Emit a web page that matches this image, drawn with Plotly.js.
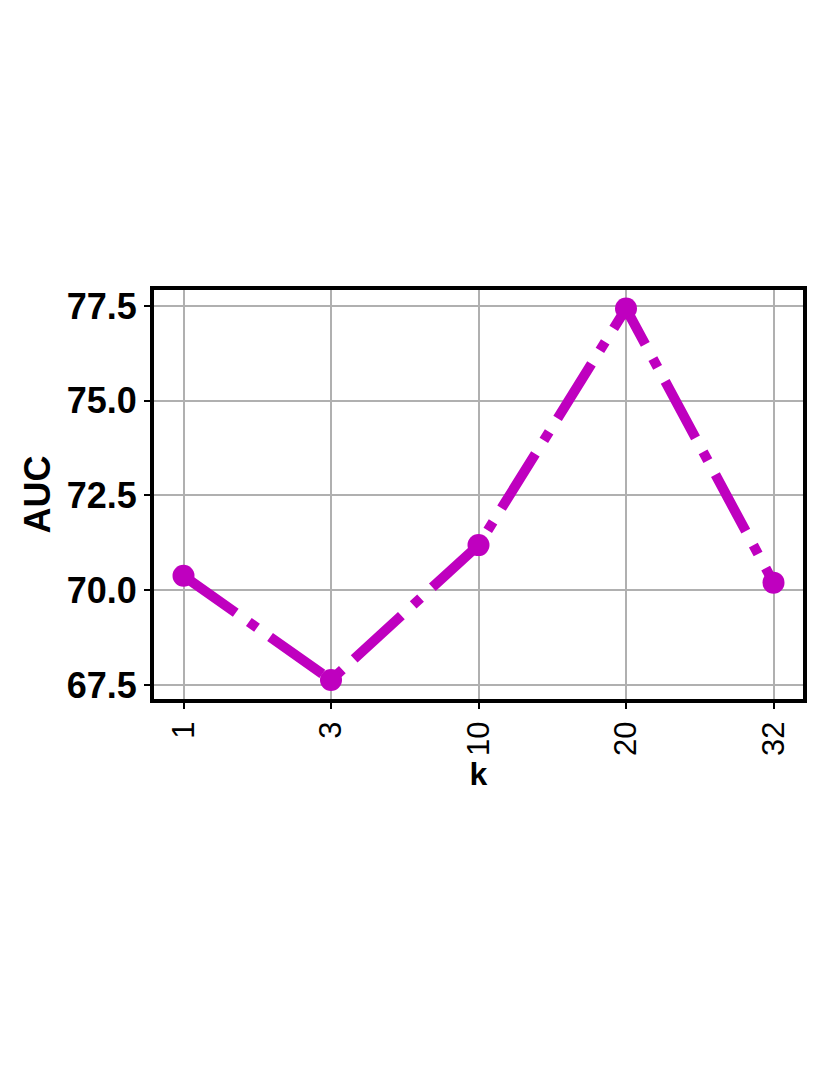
<!DOCTYPE html>
<html>
<head>
<meta charset="utf-8">
<script src="https://cdn.plot.ly/plotly-3.0.1.min.js"></script>
<style>
  html, body { margin: 0; padding: 0; background: white; }
  #chart { width: 830px; height: 1075px; }
</style>
</head>
<body>
<div id="chart"></div>
<script>
chart = document.getElementById("chart")

// k values and AUC
let kLabels = ['1', '3', '10', '20', '32'];
let aucValues = [70.38, 67.63, 71.19, 77.43, 70.20];
let yTicks = [67.5, 70.0, 72.5, 75.0, 77.5];
let yTickText = ['67.5', '70.0', '72.5', '75.0', '77.5'];

let trace = {
    x: kLabels,
    y: aucValues,
    type: 'scatter',
    mode: 'lines+markers',
    line: { color: '#bf00bf', width: 10, dash: '64px,16px,10px,16px' },
    marker: { color: '#bf00bf', size: 22 },
    cliponaxis: false
};

let layout = {
    width: 830,
    height: 1075,
    font: { family: 'Liberation Sans', color: 'black' },
    paper_bgcolor: 'white',
    plot_bgcolor: 'white',
    showlegend: false,
    margin: { l: 154, r: 27, t: 290, b: 376 },
    xaxis: {
        type: 'category',
        range: [-0.2, 4.2],
        title: { text: '<b>k</b>', font: { size: 32, family: 'Liberation Sans' }, standoff: 8 },
        tickfont: { size: 31, family: 'Liberation Sans' },
        tickangle: -90,
        ticks: 'outside',
        ticklen: 6,
        tickwidth: 2,
        tickcolor: 'black',
        showline: true,
        linewidth: 4,
        linecolor: 'black',
        mirror: true,
        showgrid: true,
        gridcolor: '#b0b0b0',
        gridwidth: 1.5,
        zeroline: false,
        automargin: false
    },
    yaxis: {
        range: [67.13, 77.92],
        tickvals: yTicks,
        ticktext: yTickText,
        title: { text: '<b>AUC</b>', font: { size: 36, family: 'Liberation Sans' }, standoff: 6 },
        tickfont: { size: 36, family: 'Liberation Sans', weight: 'bold' },
        ticks: 'outside',
        ticklen: 6,
        tickwidth: 2,
        tickcolor: 'black',
        showline: true,
        linewidth: 4,
        linecolor: 'black',
        mirror: true,
        showgrid: true,
        gridcolor: '#b0b0b0',
        gridwidth: 1.5,
        zeroline: false,
        automargin: false
    }
};

let config = { displayModeBar: false, responsive: false }
Plotly.newPlot(chart, [trace], layout, config);
</script>
</body>
</html>
